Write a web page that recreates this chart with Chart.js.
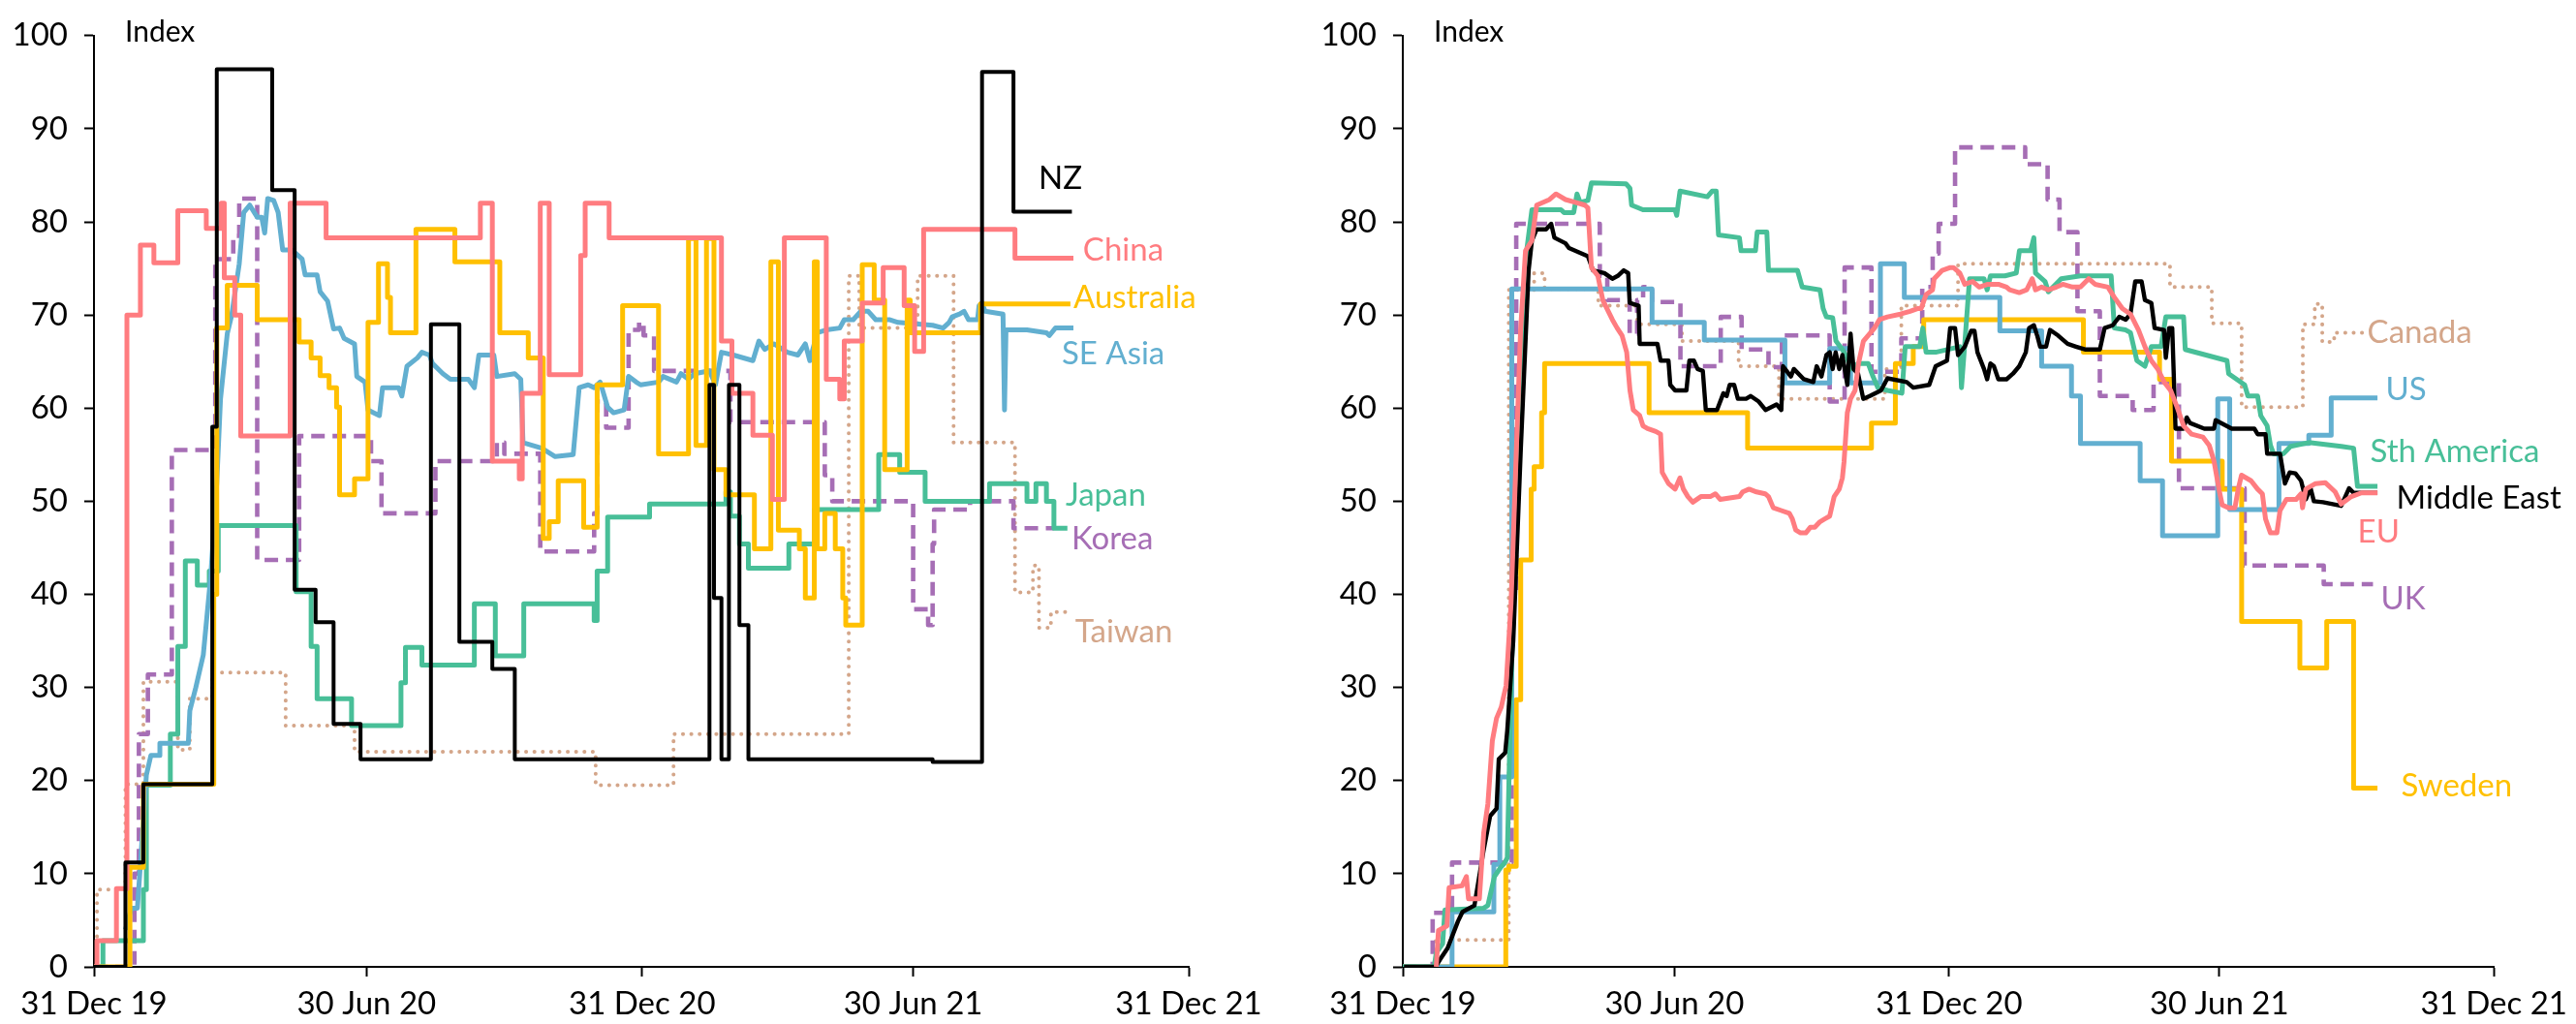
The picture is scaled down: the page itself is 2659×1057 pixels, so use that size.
<!DOCTYPE html>
<html>
<head>
<meta charset="utf-8">
<script src="https://cdn.jsdelivr.net/npm/chart.js@4.4.1/dist/chart.umd.min.js"></script>
<style>
  html, body { margin: 0; padding: 0; background: #fff; }
  #wrap { position: relative; width: 2659px; height: 1057px; }
  canvas { position: absolute; top: 0; }
  #left { left: 0; }
  #right { left: 1330px; }
</style>
</head>
<body>
<div id="wrap">
  <canvas id="left" width="1330" height="1057"></canvas>
  <canvas id="right" width="1329" height="1057"></canvas>
</div>
<script>
// x = days since 31 Dec 2019, y = index
const tickDays = [0, 182, 366, 547, 731];
const tickLabels = ['31 Dec 19', '30 Jun 20', '31 Dec 20', '30 Jun 21', '31 Dec 21'];

// ---- left panel ----
const nz = [[0,0],[21,11.2],[33,19.6],[79,58],[82,96.4],[119,83.4],[134,40.5],[148,37],[160,26.1],[178,22.3],[225,69],[244,34.9],[266,32],[281,22.3],[411,62.5],[414,39.6],[419,22.3],[424,62.5],[431,36.7],[437,22.3],[560,22],[593,96.1],[614,81.1],[653,81.1]];
const china = [[0,0],[2,2.8],[15,8.4],[22,70],[31,77.5],[40,75.6],[56,81.2],[75,79.3],[85,82],[87,74],[94,70],[98,57],[131,82],[155,78.3],[258,82],[266,54.3],[284,52.4],[286,61.6],[298,82],[304,63.6],[325,76.4],[328,82],[344,78.3],[419,67.2],[426,61.6],[440,57.1],[453,50.2],[461,78.3],[489,63.1],[498,61],[501,67.2],[513,71.3],[527,75.1],[541,71],[548,66.1],[554,79.2],[615,76.1],[654,76.1]];
const australia = [[0,0],[24,10.7],[33,19.6],[80,40],[82,68.6],[89,73.2],[109,69.5],[137,67.1],[145,65.4],[151,63.5],[157,62.2],[162,60.1],[164,50.7],[174,52.4],[183,69.2],[190,75.5],[196,71.9],[198,68.1],[215,79.2],[241,75.7],[271,68.1],[290,65.4],[300,46],[304,47.8],[310,52.2],[327,47.2],[336,62.5],[353,71],[377,55.1],[397,78.2],[402,56],[409,78.2],[414,53.4],[422,50.7],[441,44.9],[452,75.7],[457,46.9],[471,44.9],[475,39.6],[481,75.7],[483,44.9],[488,48.7],[495,44.9],[500,39.6],[502,36.7],[513,75.4],[521,71.6],[528,53.4],[543,71.6],[545,68.1],[592,71.2],[652,71.2]];
const seAsia = [[21,4],[25,6.3],[29,6.3],[31,11],[35,20.6],[38,22.7],[44,22.7],[44,24],[63,24],[64,27.5],[68,30],[73,33.5],[78,42],[82,52],[84.5,61],[89,68],[92,70],[97,75.5],[100,81],[104,81.8],[109,80.5],[112,80.5],[114,78.8],[116,82.5],[120,82.3],[123,81],[126,77],[132,77],[139,76],[141,74.3],[149,74.3],[151,72.5],[156,71.5],[160,68.5],[164,68.6],[167,67.5],[174,66.9],[175.5,63.4],[181,62.8],[183,59.8],[190.6,59.2],[192.7,62.2],[203.5,62.2],[205.6,61.3],[209,64.5],[216,65.4],[219,66],[224,65.7],[226,64.8],[233,63.7],[238,63.1],[250,63.1],[254,62.2],[257,65.7],[267,65.7],[269,63.4],[281,63.7],[285,63.1],[286.5,56.3],[299,55.7],[308,54.8],[320,55],[324,62.2],[330,62.5],[334,62.2],[338,62.8],[343,60.1],[347,59.5],[354,59.8],[357,63.4],[362,62.8],[365,62.5],[377,62.8],[380,63.4],[389,62.8],[392,63.7],[397,63.1],[401,63.7],[411,64],[415,62.5],[419,66],[427,65.7],[440,65.1],[444,67.2],[448,66.3],[454,66.9],[463,66],[470,65.7],[475,66.9],[478,65.1],[483,68.1],[489,68.4],[498,68.6],[501,69.5],[507,69.5],[512,70.4],[517,70.4],[522,69.5],[531,69.5],[537,69.2],[560,68.9],[567,68.6],[571,69.2],[573,69.8],[578,70.1],[581,70.4],[584,69.5],[590,69.5],[591,71],[593,71.3],[595,70.4],[607,70.1],[608,59.8],[609,68.4],[623,68.4],[636,68.1],[638,67.8],[642,68.6],[654,68.6]];
const japan = [[0,0],[6,2.8],[33,8.3],[35,19.5],[51,25],[56,34.4],[61,43.6],[69,41],[77,42.5],[83,47.4],[135,40.3],[145,34.4],[149,28.8],[172,25.9],[205,30.5],[208,34.3],[219,32.4],[254,39],[268,33.4],[287,39],[334,37.2],[336,42.5],[343,48.3],[371,49.7],[422,51],[425,48.4],[431,45.4],[437,42.8],[464,45.4],[481,49.1],[524,55],[538,53.1],[555,50],[598,51.9],[623,50],[629,51.9],[636,50],[641,47.1],[650,47.1]];
const korea = [[0,0],[27,10],[30,25],[36,31.4],[52,55.5],[81,76],[93,78.5],[97,82.5],[109,43.7],[137,57],[185,54.3],[192,48.7],[228,54.3],[269,56.3],[274,55.1],[298,44.6],[334,48.7],[336,60.7],[342,57.9],[357,68.4],[364,69.2],[367,67.8],[374,64],[425,58.5],[488,52.8],[493,50],[547,38.4],[557,36.7],[560,45.4],[561,49.1],[585,50],[614,47.1],[641,47.1]];
const taiwan = [[0,0],[2,8.3],[21,19.6],[33,30.6],[56,23.3],[64,28.8],[79,31.6],[128,25.9],[174,23.1],[335,19.5],[387,25],[504,74.2],[511,68.6],[550,74.2],[574,56.3],[615,40.2],[627,43.1],[631,36.4],[639,38.1],[651,38.1]];

// ---- right panel ----
const middleEast = [[0.8,0],[22,0],[25,0.8],[30,2],[37,4.9],[40,5.9],[48,6.6],[54,12.4],[58.5,16.2],[62.8,17],[64.3,22.3],[68.6,23],[70,25.4],[74,35],[79,55.4],[84.3,74.8],[86.5,78],[89.7,79.2],[96,79.2],[99.4,79.8],[101.6,78.3],[109,77.7],[111.3,77.2],[124,76.3],[127.4,74.8],[135,74.5],[140.4,73.9],[144,74.2],[148,74.8],[151,74.5],[152,71.3],[158,71],[158.7,66.9],[170.6,66.9],[172.7,65.1],[178,65.1],[179.2,62.5],[182.4,61.9],[190,61.9],[192,65.1],[195,65.1],[197.5,64.2],[201,64],[203,59.8],[210.5,59.8],[214.8,61.6],[217,61.3],[219,62.5],[222,62.5],[224.5,61],[230,61],[233,61.3],[238.5,60.7],[243,59.8],[250.4,60.4],[253.6,59.8],[254.7,64.5],[260,63.4],[262,64.2],[268.7,63.1],[275,62.8],[277.3,64.5],[280.5,63.4],[283.8,65.7],[286,66],[288,64.2],[290,66],[292.4,64.2],[294.5,65.7],[297.8,62.5],[300,68],[302,64.2],[305,63.7],[308.5,61],[312.9,61.3],[320.4,61.9],[324.7,63.2],[337.6,62.8],[342,62.2],[352.7,62.5],[357,64.5],[364.6,65.1],[366.7,68.6],[370,68.6],[372,65.7],[376.5,66.6],[380.8,68.3],[383,68.3],[385,66],[389.4,64.2],[391.5,63.1],[393.7,64.8],[396,64.5],[399,63.1],[404.5,63.1],[408.8,63.7],[413,64.5],[417.4,66],[419.6,68.6],[422.8,68.9],[425,67.8],[427,66.6],[431,66.6],[433.6,68.4],[439,67.8],[445.4,66.9],[451,66.6],[457,66.3],[467,66.3],[470.2,68.6],[475.6,68.9],[480,69.8],[484.3,69.5],[487.5,70.1],[490.7,73.6],[495,73.6],[497.2,71.6],[501.5,71.3],[503.7,68.6],[510,68.4],[511.2,65.4],[513.4,68.6],[515.5,68.6],[517.7,57.8],[523,57.8],[525.2,59],[527.4,58.4],[537,57.8],[543.5,57.8],[544.6,58.7],[555.4,57.8],[570.5,57.8],[572.7,57.2],[578,57.2],[579.1,55.1],[587.7,55.1],[591,51.9],[594.2,53.1],[598,53],[601.8,52.2],[605,50.2],[608.2,51.4],[610.4,50],[616.5,49.9],[628.7,49.5],[634,51.4],[637,50.9],[653,50.9]];
const eu = [[22.4,0],[23.9,3.9],[29.6,4.4],[31,8.5],[39.7,8.7],[42.6,9.7],[44,7.3],[51.3,7.3],[54.2,14.4],[57,17.5],[60,24.3],[62.8,26.7],[66,27.9],[67.2,28.8],[69.2,30.2],[72.5,39],[75.7,53.7],[78.9,68.3],[82.2,76.9],[86.5,78],[89.7,81.8],[98.3,82.4],[102.6,83],[109,82.4],[115.6,82.1],[122,81.8],[124,81.5],[126.4,75.1],[130.7,74.2],[134,71.6],[140.4,69.5],[143.6,68.6],[146.9,67.8],[150,66],[152.2,61.9],[154.4,59.8],[158.7,59.2],[160.9,58.1],[164,57.8],[169.5,57.5],[172.7,57.2],[173.8,53.1],[178,51.9],[182.4,51.3],[185.7,52.5],[188,51.3],[191,50.5],[194.3,49.9],[199.7,50.5],[206,50.5],[209.4,50.8],[212.6,50.2],[225.5,50.5],[227.7,51],[232,51.3],[237,51],[242.8,50.8],[245,50.5],[248.2,49.3],[253.6,49],[259,48.7],[261,48.1],[263.3,46.9],[266.5,46.6],[270,46.6],[273,47.2],[276,47.2],[279.5,47.8],[282.7,48.1],[286,48.4],[289,50.5],[292.4,51.3],[294.5,52.5],[295.6,54.2],[297.8,59.5],[300,61],[303,61.9],[305.3,64.8],[308.6,67.2],[316,68.6],[319.3,69.5],[324.7,69.8],[333.4,70.1],[339.8,70.4],[345.2,70.7],[347.3,70.7],[350.6,72.2],[354.9,72.7],[356,73.9],[361.4,74.8],[366.8,75.1],[368.9,75.1],[373.2,74.5],[376.5,73.3],[381.8,73.6],[386.2,73],[392,73.3],[399,73.3],[404.5,73],[406.6,72.7],[413,72.4],[418,72.7],[421.7,73.9],[423.9,72.7],[428,73],[432.5,72.7],[437.9,73],[442.2,73.3],[448.7,73],[454,73],[459.5,73.9],[463.8,73.3],[472.4,73],[476.7,71.9],[482.1,70.7],[487.5,70.1],[492.9,68.4],[497.2,66.6],[501.5,65.1],[505.8,64.2],[510.1,62.8],[514.4,61.9],[518.8,60.1],[523.1,58.1],[528.5,57.2],[536,56.9],[540.3,56],[543.5,54.3],[546.8,51.3],[549,49.6],[553.2,49.3],[557.5,49.3],[559.7,51.3],[561.9,52.8],[568.3,52.2],[572.7,51.3],[575.9,50.8],[578,48.1],[581.3,46.6],[585.6,46.6],[587.7,49],[592,50.2],[598.5,50.2],[601.8,50.8],[602.8,49.3],[605,51.3],[611.5,51.9],[618,52],[624.7,51],[628.7,49.7],[635.5,50.5],[642.3,50.9],[653,50.9]];
const sthAmerica = [[0,0],[21,0],[22.4,1.5],[26.7,2.5],[28.2,6.1],[54.2,6.3],[57,6.6],[61.4,9.7],[65.7,10.7],[68,11.1],[70,11.7],[72.5,30.2],[79,62.5],[83.2,77.2],[86.5,81.3],[106,81.3],[108,81],[114.5,81],[116.7,83],[118.8,82.1],[124,82.3],[126.4,84.2],[149.5,84.1],[152.2,83.6],[153.3,81.8],[160.9,81.3],[182.4,81.3],[183.5,80.7],[185.7,83.3],[204,82.7],[207.2,83.3],[210,83.3],[211.5,78.6],[225.5,78.3],[226.6,76.9],[236.3,76.9],[237.4,78.9],[243.9,78.9],[245,74.8],[264.4,74.8],[267.6,73],[279.5,72.7],[281.6,70.7],[283.8,69.8],[288,69.7],[290.2,67.2],[294.5,66.3],[297.8,65.4],[300,64.2],[305.3,64.8],[311.8,64.8],[315,63.4],[318.3,62.2],[324.7,61.9],[334.4,61.6],[336.6,66.6],[346.3,66.6],[348.4,68.6],[350.6,66],[357,66],[373.2,66.6],[374.3,62.2],[376.5,66.9],[379.7,73.9],[389.4,73.9],[391.5,72.7],[393.7,74.2],[403.4,74.2],[411,74.5],[413.1,76.9],[420.6,76.9],[422.8,78.3],[423.9,74.5],[430.3,73.6],[432.5,72.5],[441.1,73.9],[454,74.2],[474.6,74.2],[476.7,68.6],[484.3,68.4],[487.5,68.1],[491.8,65.1],[497.2,64.5],[501.5,66.6],[508,66.6],[511.2,69.8],[523.1,69.8],[524.2,66.3],[538.2,65.7],[552.2,65.1],[553.3,63.7],[564,62.5],[566.2,61.3],[572.7,61.3],[574.8,59.2],[579.1,58.1],[581.3,56],[583.4,55.1],[590,55.1],[594.8,55.9],[607,56.3],[628.7,55.9],[637,55.7],[639.6,51.6],[653,51.6]];
const us = [[0,0],[33,5.9],[61,11],[65,20.4],[73,72.8],[167,69.2],[202,67.3],[256,62.7],[286,66.4],[300,62.7],[320,75.5],[336,71.9],[400,68.3],[428,64.5],[448,61.3],[454,56.2],[494,52.2],[509,46.3],[546,61],[554,49.1],[587,56.2],[607,57.1],[622,61.1],[653,61.1]];
const sweden = [[0,0],[69,10.4],[71,10.8],[76,28.7],[79,43.7],[86,51.3],[88,53.7],[93,59.5],[95,64.8],[165,59.5],[231,55.7],[314,58.4],[330,64.8],[342,66.6],[349,69.5],[456,66],[507,63.1],[515,54.3],[549,51.3],[562,37.1],[601,32.1],[619,37.1],[637,19.2],[653,19.2]];
const uk = [[0,0],[20,5.8],[33,11.2],[73,40],[76,79.8],[132,74.2],[137,71.6],[152,68],[157,71.6],[161,73],[167,71.4],[186,64.5],[213,69.8],[227,66.3],[245,64.4],[254,67.8],[286,60.7],[296,75.1],[314,63.9],[334,67.5],[348,73],[355,76.6],[359,79.8],[370,88],[417,86.2],[432,82.4],[440,78.9],[452,70.4],[467,61.3],[489,59.8],[503,62.8],[520,51.4],[564,43.1],[617,41.1],[650,41.1]];
const canada = [[0,0],[22,2.9],[71,72.7],[88,74.5],[95,72.8],[131,71],[157,69],[187,67.2],[225,64.5],[252,61],[323,64.2],[334,71],[372,75.5],[514,73],[542,69.1],[562,60.1],[603,69],[611,71.2],[616,67.1],[624,68.1],[643,68.1]];

const FONT = 'Lato, "Open Sans", sans-serif';
const C = {
  black: '#000000', pink: '#FF7C80', yellow: '#FFC000', blue: '#62AFD0',
  green: '#48BF98', purple: '#A66EB5', tan: '#D4A68A'
};

function pts(arr) { return arr.map(p => ({ x: p[0], y: p[1] })); }

function line(label, arr, color, width, opts) {
  return Object.assign({
    label: label, data: pts(arr), borderColor: color, backgroundColor: color,
    borderWidth: width, pointRadius: 0, fill: false, tension: 0,
    borderJoinStyle: 'round'
  }, opts || {});
}
const STEP = { stepped: 'before' };
const DASH = { stepped: 'before', borderDash: [14, 8] };
const DOT = { stepped: 'before', borderDash: [0.1, 8.5], borderCapStyle: 'round' };

const panelText = {
  id: 'panelText',
  afterDatasetsDraw(chart, args, o) {
    const ctx = chart.ctx, xs = chart.scales.x, ys = chart.scales.y;
    ctx.save();
    ctx.fillStyle = '#000';
    ctx.font = '30px ' + FONT;
    ctx.textAlign = 'left';
    ctx.textBaseline = 'alphabetic';
    ctx.fillText('Index', chart.chartArea.left + 32, 43);
    ctx.font = '33px ' + FONT;
    ctx.textBaseline = 'middle';
    o.items.forEach(it => {
      ctx.fillStyle = it.color;
      ctx.fillText(it.text, xs.getPixelForValue(it.day), ys.getPixelForValue(it.value));
    });
    ctx.restore();
  }
};

function makePanel(id, datasets, items, yWidth, rightPad) {
  const axisGrid = { drawOnChartArea: false, drawTicks: true, tickLength: 10, tickColor: '#000', tickWidth: 2, color: '#000' };
  return new Chart(document.getElementById(id), {
    type: 'line',
    data: { datasets: datasets },
    plugins: [panelText],
    options: {
      responsive: false, animation: false, devicePixelRatio: 1,
      layout: { padding: { top: 20, right: rightPad, left: 0, bottom: 0 } },
      plugins: { legend: { display: false }, tooltip: { enabled: false }, panelText: { items: items } },
      scales: {
        x: {
          type: 'linear', min: 0, max: 731,
          afterBuildTicks: ax => { ax.ticks = tickDays.map(v => ({ value: v })); },
          afterFit: ax => { ax.height = 59; },
          ticks: { autoSkip: false, maxRotation: 0, color: '#000', padding: 9,
                   font: { family: FONT, size: 33 }, callback: (v, i) => tickLabels[i] },
          grid: axisGrid,
          border: { color: '#000', width: 2 }
        },
        y: {
          min: 0, max: 100,
          afterFit: ax => { ax.width = yWidth; },
          ticks: { stepSize: 10, color: '#000', padding: 17, font: { family: FONT, size: 33 } },
          grid: axisGrid,
          border: { color: '#000', width: 2 }
        }
      }
    }
  });
}

makePanel('left', [
  line('NZ', nz, C.black, 4, STEP),
  line('China', china, C.pink, 5, STEP),
  line('Australia', australia, C.yellow, 5, STEP),
  line('SE Asia', seAsia, C.blue, 5),
  line('Japan', japan, C.green, 5, STEP),
  line('Korea', korea, C.purple, 4.6, DASH),
  line('Taiwan', taiwan, C.tan, 4, DOT)
], [
  { text: 'NZ', day: 630.7, value: 84.7, color: C.black },
  { text: 'China', day: 660.4, value: 77.0, color: C.pink },
  { text: 'Australia', day: 654, value: 71.9, color: C.yellow },
  { text: 'SE Asia', day: 646.2, value: 65.8, color: C.blue },
  { text: 'Japan', day: 648.8, value: 50.6, color: C.green },
  { text: 'Korea', day: 652.7, value: 45.9, color: C.purple },
  { text: 'Taiwan', day: 655.2, value: 36.0, color: C.tan }
], 97, 103);

makePanel('right', [
  line('EU', eu, C.pink, 5),
  line('Middle East', middleEast, C.black, 4.4),
  line('Sth America', sthAmerica, C.green, 5),
  line('US', us, C.blue, 5, STEP),
  line('Sweden', sweden, C.yellow, 5, STEP),
  line('UK', uk, C.purple, 4.6, DASH),
  line('Canada', canada, C.tan, 4, DOT)
], [
  { text: 'Canada', day: 646.2, value: 68.1, color: C.tan },
  { text: 'US', day: 658.5, value: 62.0, color: C.blue },
  { text: 'Sth America', day: 648.1, value: 55.3, color: C.green },
  { text: 'Middle East', day: 665.6, value: 50.3, color: C.black },
  { text: 'EU', day: 639.7, value: 46.7, color: C.pink },
  { text: 'UK', day: 655.2, value: 39.5, color: C.purple },
  { text: 'Sweden', day: 668.8, value: 19.4, color: C.yellow }
], 118, 81);
</script>
</body>
</html>
